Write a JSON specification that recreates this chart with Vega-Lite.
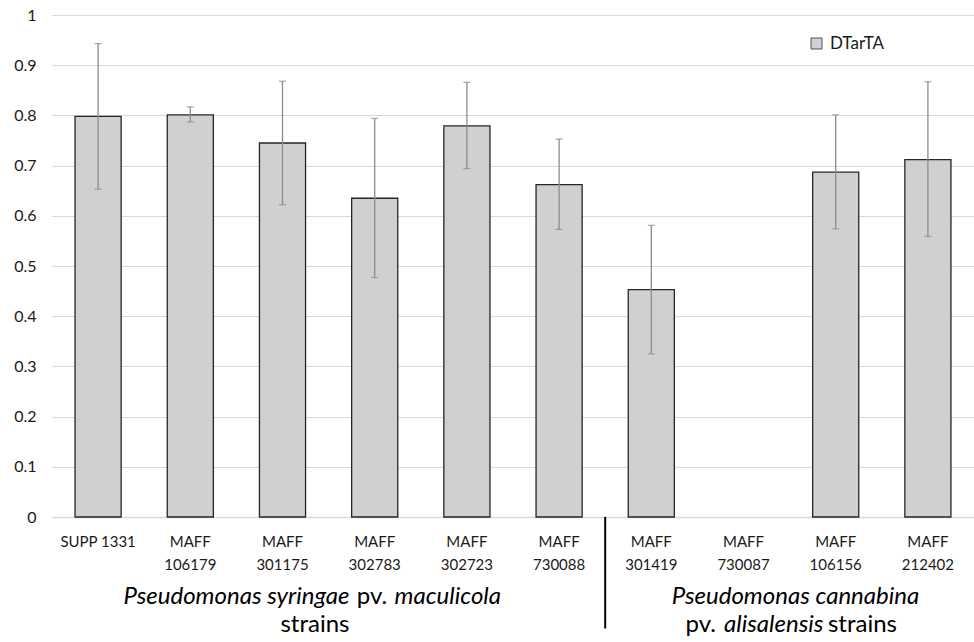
{
  "$schema": "https://vega.github.io/schema/vega-lite/v6.json",
  "width": 922,
  "height": 502,
  "autosize": "none",
  "padding": {"left": 52, "top": 15, "right": 0, "bottom": 125},
  "background": "white",
  "config": {
    "font": "Lato",
    "view": {"stroke": null},
    "axis": {"labelFont": "Lato", "labelColor": "#1a1a1a"}
  },
  "datasets": {
    "bars": [
      {"strain": "SUPP 1331", "value": 0.798, "lo": 0.653, "hi": 0.943, "series": "DTarTA"},
      {"strain": "MAFF 106179", "value": 0.801, "lo": 0.787, "hi": 0.817, "series": "DTarTA"},
      {"strain": "MAFF 301175", "value": 0.745, "lo": 0.622, "hi": 0.868, "series": "DTarTA"},
      {"strain": "MAFF 302783", "value": 0.635, "lo": 0.477, "hi": 0.794, "series": "DTarTA"},
      {"strain": "MAFF 302723", "value": 0.779, "lo": 0.694, "hi": 0.866, "series": "DTarTA"},
      {"strain": "MAFF 730088", "value": 0.662, "lo": 0.573, "hi": 0.753, "series": "DTarTA"},
      {"strain": "MAFF 301419", "value": 0.453, "lo": 0.325, "hi": 0.581, "series": "DTarTA"},
      {"strain": "MAFF 730087", "value": 0, "lo": null, "hi": null, "series": "DTarTA"},
      {"strain": "MAFF 106156", "value": 0.687, "lo": 0.574, "hi": 0.801, "series": "DTarTA"},
      {"strain": "MAFF 212402", "value": 0.712, "lo": 0.559, "hi": 0.867, "series": "DTarTA"}
    ],
    "annot": [
      {"t": "Pseudomonas syringae", "x": 3.227, "y": -0.174, "g": "ir"},
      {"t": "pv.", "x": 3.471, "y": -0.174, "g": "nc"},
      {"t": "maculicola", "x": 3.715, "y": -0.174, "g": "il"},
      {"t": "strains", "x": 2.852, "y": -0.230, "g": "nc"},
      {"t": "Pseudomonas cannabina", "x": 8.064, "y": -0.174, "g": "ic"},
      {"t": "pv.", "x": 7.202, "y": -0.230, "g": "nr"},
      {"t": "alisalensis", "x": 7.289, "y": -0.230, "g": "il"},
      {"t": "strains", "x": 8.416, "y": -0.230, "g": "nl"}
    ],
    "sep": [{"x": 6, "y": 0, "y2": -0.222}]
  },
  "layer": [
    {
      "data": {"name": "bars"},
      "encoding": {
        "x": {
          "field": "strain", "type": "nominal", "sort": null,
          "scale": {
            "domain": ["SUPP 1331", "MAFF 106179", "MAFF 301175", "MAFF 302783", "MAFF 302723", "MAFF 730088", "MAFF 301419", "MAFF 730087", "MAFF 106156", "MAFF 212402"],
            "paddingInner": 0.5, "paddingOuter": 0.25
          }
        }
      },
      "layer": [
        {
          "transform": [{"filter": "datum.value > 0"}],
          "mark": {"type": "bar", "stroke": "#262626", "strokeWidth": 1.3},
          "encoding": {
            "x": {
              "field": "strain", "type": "nominal", "sort": null, "title": null,
              "axis": {
                "labelAngle": 0, "labelFontSize": 15, "labelLineHeight": 23,
                "labelPadding": 17, "ticks": false, "domainColor": "#d9d9d9", "domainWidth": 1.5,
                "labelExpr": "datum.label == 'SUPP 1331' ? datum.label : split(datum.label, ' ')"
              }
            },
            "y": {
              "field": "value", "type": "quantitative", "title": null,
              "scale": {"domain": [0, 1], "nice": false},
              "axis": {
                "values": [0, 0.1, 0.2, 0.3, 0.4, 0.5, 0.6, 0.7, 0.8, 0.9, 1],
                "format": ".1~f", "labelFontSize": 16, "labelPadding": 16,
                "ticks": false, "domain": false, "gridColor": "#d9d9d9", "gridWidth": 1
              }
            },
            "fill": {
              "field": "series", "type": "nominal", "title": null,
              "scale": {"range": ["#d0d0d0"]},
              "legend": {
                "orient": "none", "legendX": 756, "legendY": 20, "padding": 0,
                "symbolType": "square", "symbolSize": 121, "symbolStrokeColor": "#555555",
                "symbolStrokeWidth": 1, "labelFontSize": 17, "labelFont": "Lato",
                "labelColor": "#1a1a1a", "labelOffset": 5
              }
            }
          }
        },
        {
          "transform": [{"filter": "datum.lo != null"}],
          "mark": {"type": "rule", "color": "#8c8c8c", "strokeWidth": 1.3},
          "encoding": {
            "y": {"field": "lo", "type": "quantitative", "scale": {"domain": [0, 1], "nice": false}},
            "y2": {"field": "hi"}
          }
        },
        {
          "transform": [{"filter": "datum.lo != null"}],
          "mark": {"type": "tick", "color": "#8c8c8c", "size": 7, "thickness": 1.3},
          "encoding": {
            "y": {"field": "lo", "type": "quantitative", "scale": {"domain": [0, 1], "nice": false}}
          }
        },
        {
          "transform": [{"filter": "datum.lo != null"}],
          "mark": {"type": "tick", "color": "#8c8c8c", "size": 7, "thickness": 1.3},
          "encoding": {
            "y": {"field": "hi", "type": "quantitative", "scale": {"domain": [0, 1], "nice": false}}
          }
        }
      ]
    },
    {
      "data": {"name": "sep"},
      "mark": {"type": "rule", "color": "#000000", "strokeWidth": 2, "clip": false},
      "encoding": {
        "x": {"field": "x", "type": "quantitative", "scale": {"domain": [0, 10], "nice": false, "zero": false}, "axis": null},
        "y": {"field": "y", "type": "quantitative", "scale": {"domain": [0, 1], "nice": false}, "axis": null},
        "y2": {"field": "y2"}
      }
    },
    {
      "data": {"name": "annot"},
      "encoding": {
        "x": {"field": "x", "type": "quantitative", "scale": {"domain": [0, 10], "nice": false, "zero": false}, "axis": null},
        "y": {"field": "y", "type": "quantitative", "scale": {"domain": [0, 1], "nice": false}, "axis": null},
        "text": {"field": "t"}
      },
      "layer": [
        {"transform": [{"filter": "datum.g == 'ir'"}], "mark": {"type": "text", "font": "Lato", "fontSize": 24, "fontStyle": "italic", "align": "right", "baseline": "alphabetic", "color": "#000"}},
        {"transform": [{"filter": "datum.g == 'il'"}], "mark": {"type": "text", "font": "Lato", "fontSize": 24, "fontStyle": "italic", "align": "left", "baseline": "alphabetic", "color": "#000"}},
        {"transform": [{"filter": "datum.g == 'ic'"}], "mark": {"type": "text", "font": "Lato", "fontSize": 24, "fontStyle": "italic", "align": "center", "baseline": "alphabetic", "color": "#000"}},
        {"transform": [{"filter": "datum.g == 'nc'"}], "mark": {"type": "text", "font": "Lato", "fontSize": 24, "align": "center", "baseline": "alphabetic", "color": "#000"}},
        {"transform": [{"filter": "datum.g == 'nr'"}], "mark": {"type": "text", "font": "Lato", "fontSize": 24, "align": "right", "baseline": "alphabetic", "color": "#000"}},
        {"transform": [{"filter": "datum.g == 'nl'"}], "mark": {"type": "text", "font": "Lato", "fontSize": 24, "align": "left", "baseline": "alphabetic", "color": "#000"}}
      ]
    }
  ],
  "resolve": {"scale": {"x": "independent", "y": "independent"}, "axis": {"x": "independent", "y": "independent"}}
}
